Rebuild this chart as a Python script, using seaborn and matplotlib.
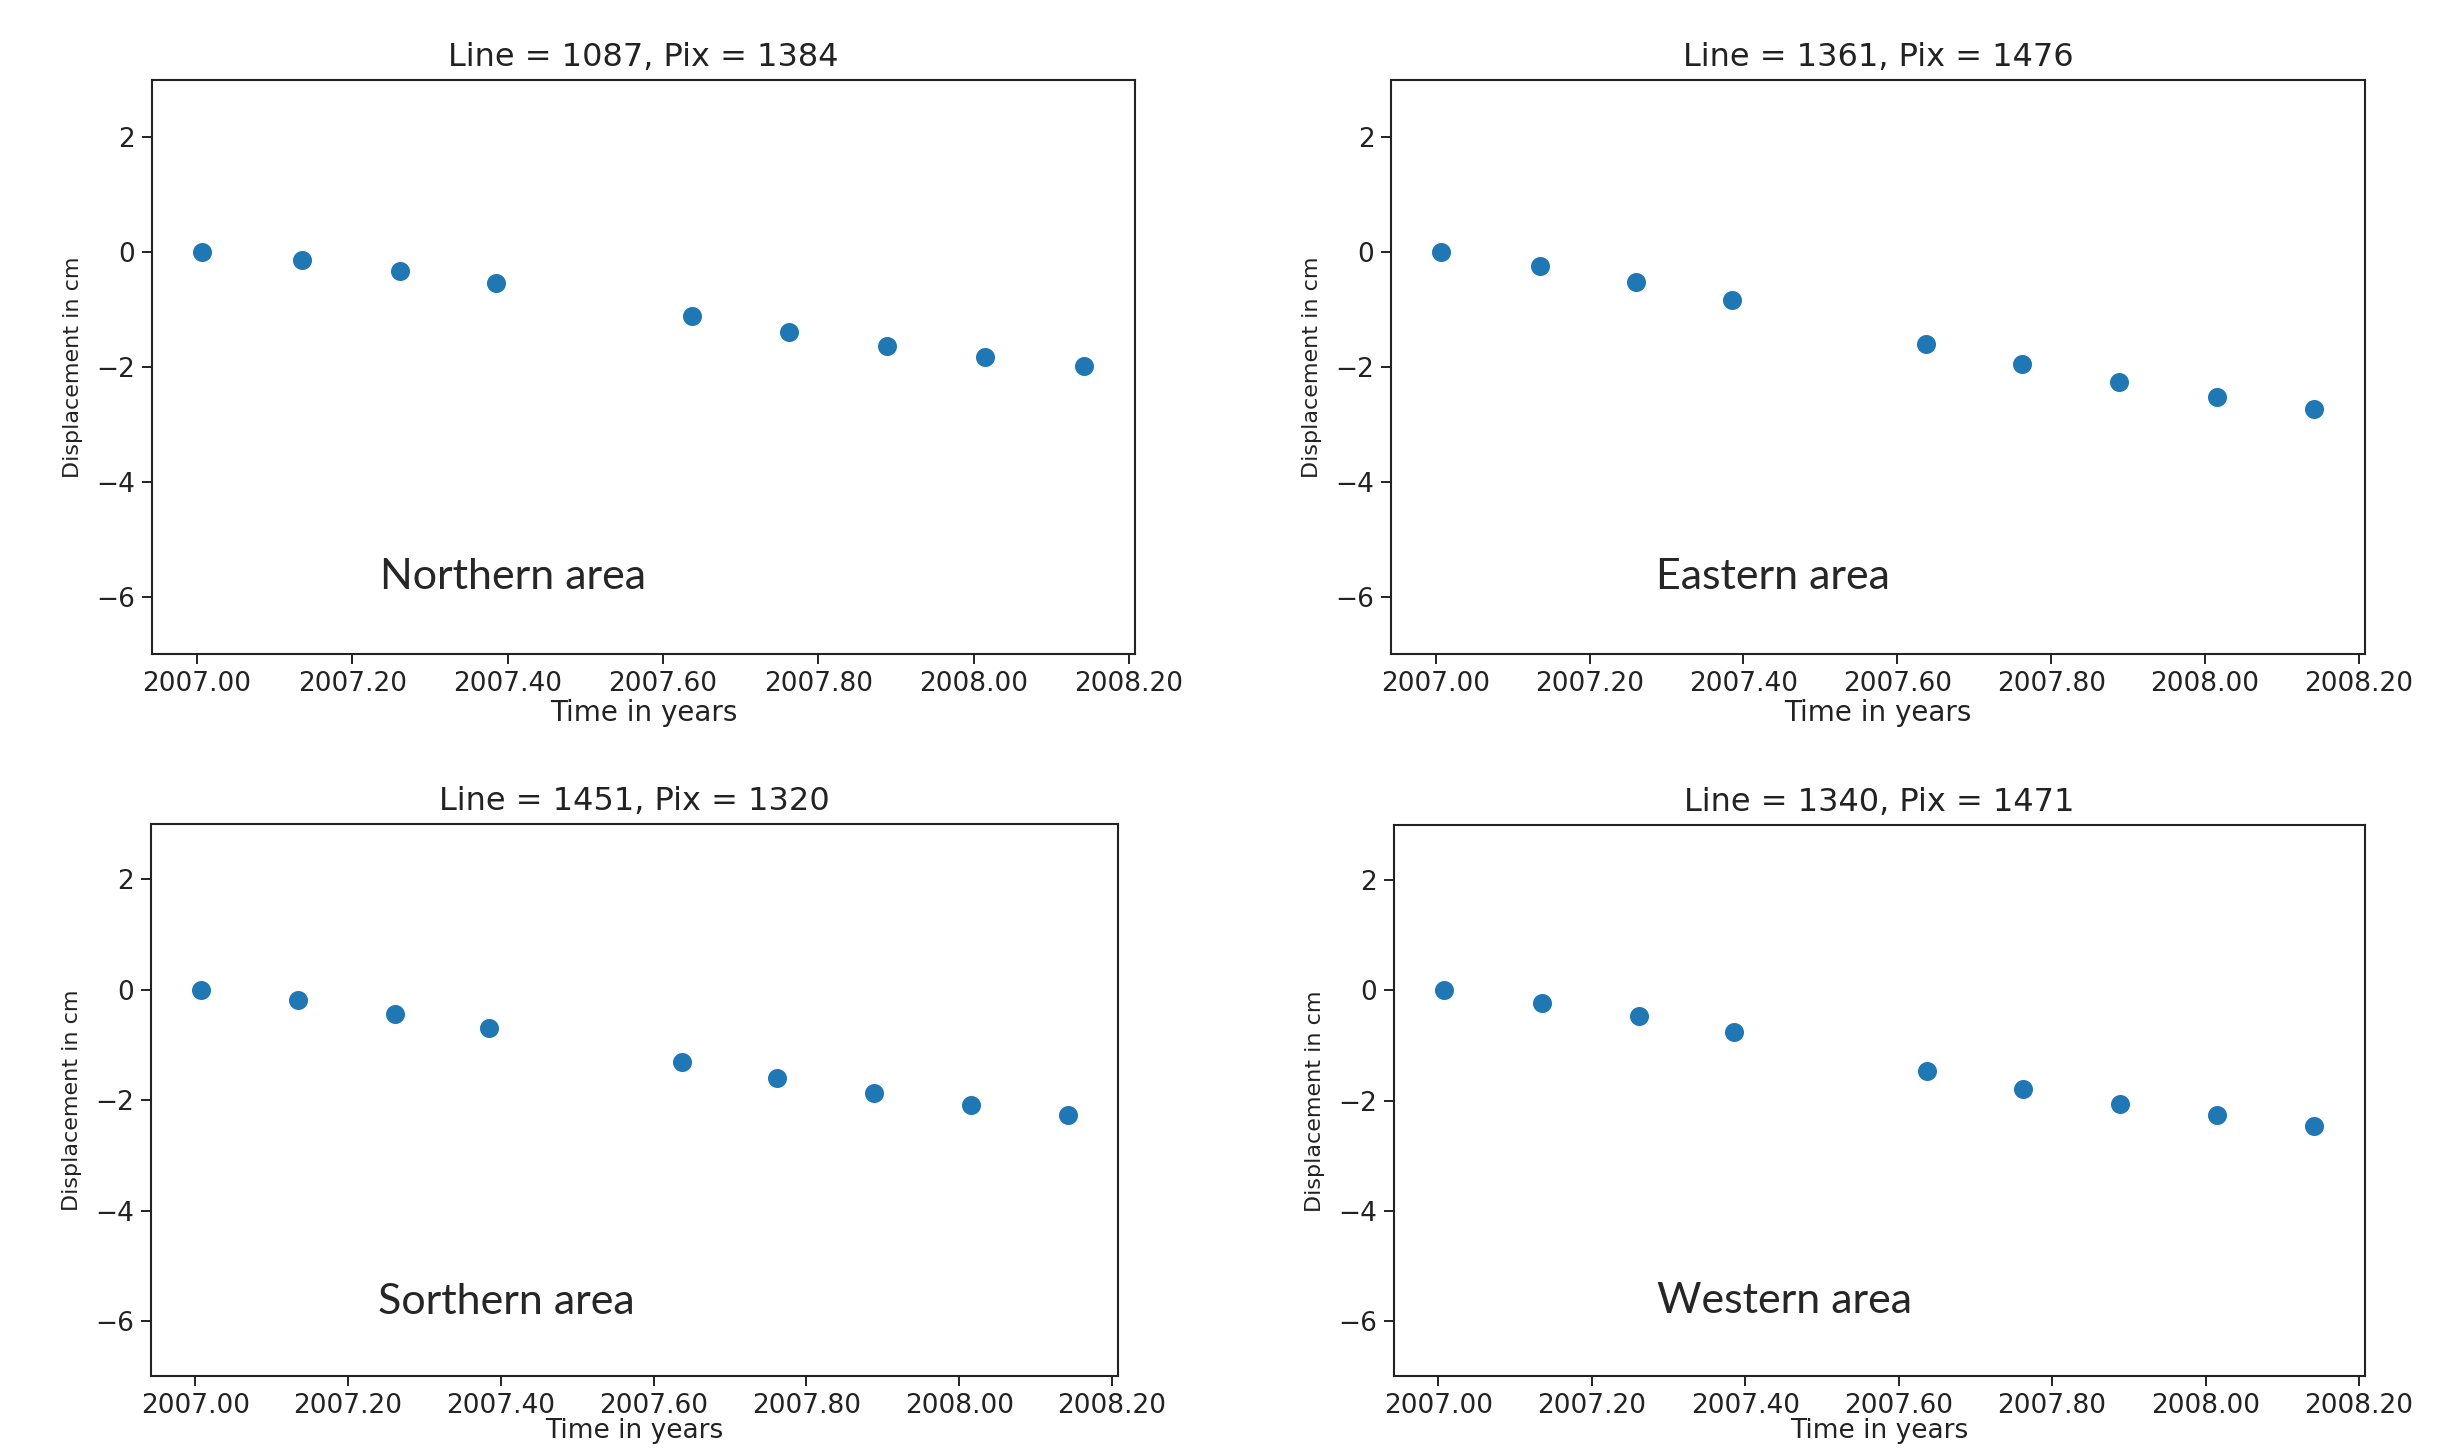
import pandas as pd
import matplotlib
matplotlib.use("Agg")
import matplotlib.pyplot as plt
import seaborn as sns
from matplotlib.ticker import FormatStrFormatter, MultipleLocator

# acquisition times (decimal years), same for every pixel
years = [2007.007, 2007.135, 2007.261, 2007.385, 2007.637,
         2007.762, 2007.888, 2008.015, 2008.142]

titles = ["Line = 1087, Pix = 1384", "Line = 1361, Pix = 1476",
          "Line = 1451, Pix = 1320", "Line = 1340, Pix = 1471"]
areas = ["Northern area", "Eastern area", "Sorthern area", "Western area"]

# displacement in cm
northern = [0.0, -0.14, -0.33, -0.545, -1.105, -1.385, -1.634, -1.82, -1.984]
eastern = [0.0, -0.24, -0.52, -0.84, -1.60, -1.95, -2.27, -2.52, -2.74]
southern = [0.0, -0.19, -0.44, -0.70, -1.30, -1.59, -1.87, -2.08, -2.27]
western = [0.0, -0.22, -0.465, -0.76, -1.46, -1.78, -2.05, -2.26, -2.46]

series = [northern, eastern, southern, western]

sns.set_style("ticks")
plt.rcParams['font.family'] = ['DejaVu Sans']

fig = plt.figure(figsize=(24.4, 14.52), dpi=100)

# panel rectangles (left, bottom, width, height) in figure fraction
rects = [
    [0.0623, 0.5496, 0.4029, 0.3953],
    [0.5701, 0.5496, 0.3992, 0.3953],
    [0.0619, 0.0520, 0.3963, 0.3805],
    [0.5713, 0.0520, 0.3980, 0.3798],
]
# where the area names sit, axes fraction
label_pos = [(0.232, 0.134), (0.272, 0.134), (0.235, 0.135), (0.271, 0.137)]
xlabel_pad = [2, 2, -1, -1]
xlabel_size = [20, 20, 19, 19]

for i in range(4):
    ax = fig.add_axes(rects[i])
    df = pd.DataFrame({'time': years, 'disp': series[i]})
    sns.scatterplot(data=df, x='time', y='disp', ax=ax, color='#1f77b4',
                    s=210, edgecolor='white', linewidth=0.8)
    ax.set_xlim(2006.942, 2008.208)
    ax.set_ylim(-7, 3)
    ax.xaxis.set_major_locator(MultipleLocator(0.2))
    ax.xaxis.set_major_formatter(FormatStrFormatter('%.2f'))
    ax.yaxis.set_major_locator(MultipleLocator(2))
    ax.set_title(titles[i], fontsize=23, pad=10, color='#222222')
    ax.set_xlabel('Time in years', fontsize=xlabel_size[i],
                  labelpad=xlabel_pad[i], color='#222222')
    ax.set_ylabel('Displacement in cm', fontsize=16, labelpad=10,
                  color='#222222')
    ax.tick_params(axis='both', labelsize=19, length=7, width=1.4,
                   color='#222222', labelcolor='#222222', pad=5)
    for sp in ax.spines.values():
        sp.set_visible(True)
        sp.set_linewidth(1.5)
        sp.set_color('#222222')
    ax.text(label_pos[i][0], label_pos[i][1], areas[i], transform=ax.transAxes,
            ha='left', va='center', fontsize=31, family=['Lato', 'DejaVu Sans'])

fig.savefig('out.png', dpi=100)
